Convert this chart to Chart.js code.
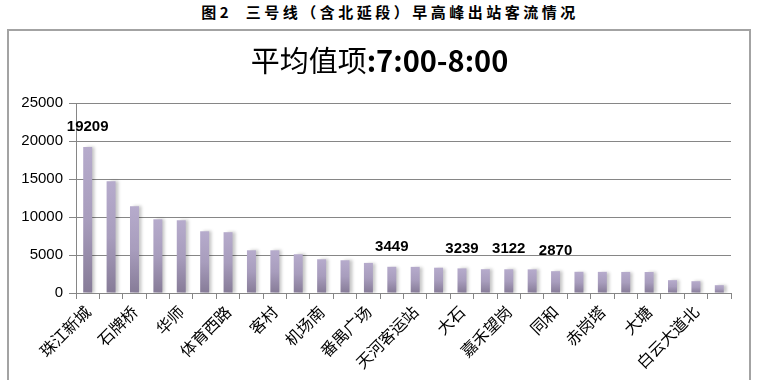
<!DOCTYPE html>
<html><head><meta charset="utf-8">
<script src="https://cdn.jsdelivr.net/npm/chart.js@4/dist/chart.umd.min.js"></script>
<style>
html,body{margin:0;padding:0;background:#fff;width:759px;height:380px;overflow:hidden;}
#cap{position:absolute;left:0;top:1px;width:780px;text-align:center;font-family:"Noto Sans CJK SC";font-weight:bold;font-size:15px;letter-spacing:3.5px;color:#000;white-space:pre;}
#box{position:absolute;left:7px;top:29px;width:744px;height:400px;border:2px solid #a3a3a3;box-sizing:border-box;}
#title{position:absolute;left:0;top:39px;width:759px;text-align:center;font-family:"Noto Sans CJK SC";font-size:29px;line-height:40px;color:#000;white-space:pre;}
#title b{font-weight:bold;}
#wrap{position:absolute;left:0;top:0;width:759px;height:380px;}
</style></head>
<body>
<div id="cap">图2  三号线（含北延段）早高峰出站客流情况</div>
<div id="box"></div>
<div id="wrap"><canvas id="c"></canvas></div>
<div id="title"></div>
<script>
const categories = ['珠江新城','岗顶','石牌桥','五山','华师','广州东站','体育西路','林和西','客村','燕塘','机场南','市桥','番禺广场','汉溪长隆','天河客运站','梅花园','大石','京溪南方医院','嘉禾望岗','沥滘','同和','厦滘','赤岗塔','永泰','大塘','龙归','白云大道北','人和'];
const passengers = [19209,14700,11400,9700,9570,8120,8000,5620,5620,5100,4440,4310,3960,3449,3440,3330,3239,3130,3122,3110,2870,2790,2780,2770,2760,1690,1550,1030];
const labeledIndex = [0,13,16,18,20];
const yTicks = [0,5000,10000,15000,20000,25000];
const titleName = '平均值项';
const titleTime = ':7:00-8:00';

const t=document.getElementById('title');
t.appendChild(document.createTextNode(titleName));
const b=document.createElement('b');b.textContent=titleTime;t.appendChild(b);

const shadowPlugin = {
  id:'barShadow',
  beforeDatasetsDraw(chart){const ctx=chart.ctx;ctx.save();ctx.shadowColor='rgba(0,0,0,0.22)';ctx.shadowOffsetX=3;ctx.shadowOffsetY=0;ctx.shadowBlur=3;},
  afterDatasetsDraw(chart){chart.ctx.restore();}
};
const labelPlugin = {
  id:'valLabels',
  afterDraw(chart){
    const ctx=chart.ctx, meta=chart.getDatasetMeta(0);
    ctx.save();
    ctx.font='bold 15px "Liberation Sans"';
    ctx.fillStyle='#000';ctx.textAlign='center';ctx.textBaseline='middle';
    labeledIndex.forEach(i=>{const el=meta.data[i];ctx.fillText(String(passengers[i]),el.x,el.y-20);});
    ctx.restore();
  }
};

new Chart(document.getElementById('c'),{
  type:'bar',
  data:{labels:categories,datasets:[{data:passengers,
    categoryPercentage:0.8,barPercentage:0.48,
    backgroundColor(c){
      const ch=c.chart, ys=ch.scales && ch.scales.y;
      if(!ys || c.dataIndex===undefined || !ch.chartArea) return '#a99cbf';
      const top=ys.getPixelForValue(passengers[c.dataIndex]), bot=ys.getPixelForValue(0);
      const g=ch.ctx.createLinearGradient(0,top,0,bot);
      g.addColorStop(0,'#b6abcc');g.addColorStop(0.5,'#a89dbd');g.addColorStop(1,'#867b97');
      return g;
    }}]},
  options:{
    responsive:true,maintainAspectRatio:false,animation:false,
    layout:{padding:{left:0,right:28,top:103,bottom:0}},
    plugins:{legend:{display:false},tooltip:{enabled:false},title:{display:false}},
    scales:{
      x:{grid:{offset:true,drawOnChartArea:false,drawTicks:true,tickLength:6,color:'#868686'},
         border:{color:'#868686'},
         ticks:{autoSkip:false,maxRotation:45,minRotation:45,padding:3,color:'#000',
           font:{family:'"Noto Sans CJK SC"',size:16},
           callback:(v,i)=> i%2===0 ? categories[i] : ''},
         afterFit(s){s.height=87;}},
      y:{min:0,max:25000,
         afterBuildTicks(s){s.ticks=yTicks.map(v=>({value:v}));},
         ticks:{padding:6,color:'#000',font:{family:'"Liberation Sans"',size:15},callback:v=>String(v)},
         grid:{color:'#868686',tickLength:7},border:{color:'#868686'},
         afterFit(s){s.width=76;}}
    }
  },
  plugins:[shadowPlugin,labelPlugin]
});
</script>
</body></html>
